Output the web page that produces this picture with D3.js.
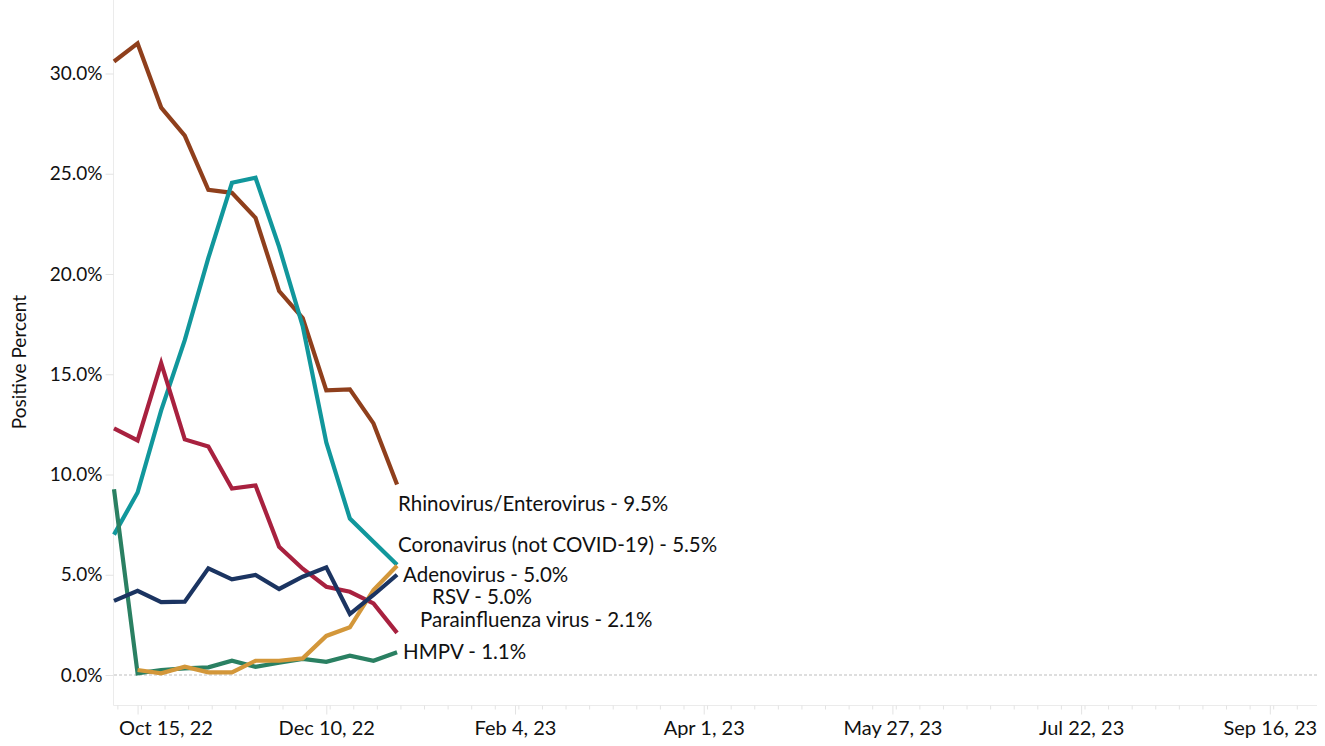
<!DOCTYPE html>
<html>
<head>
<meta charset="utf-8">
<script src="https://cdn.jsdelivr.net/npm/d3@7"></script>
<style>
  body { margin: 0; background: #fff; }
  svg { display: block; font-family: Lato, "Open Sans", sans-serif; }
</style>
</head>
<body>
<svg id="chart" width="1325" height="746"></svg>
<script>
// weekly dates (Saturdays), Oct 8 to Dec 31, 2022
const weeks = ["2022-10-08", "2022-10-15", "2022-10-22", "2022-10-29", "2022-11-05",
  "2022-11-12", "2022-11-19", "2022-11-26", "2022-12-03", "2022-12-10",
  "2022-12-17", "2022-12-24", "2022-12-31"];

const rhino = [30.6, 31.5, 28.3, 26.9, 24.2, 24.05, 22.8, 19.15, 17.8, 14.2, 14.25, 12.55, 9.5];
const corona = [7.0, 9.1, 13.2, 16.7, 20.8, 24.55, 24.8, 21.35, 17.4, 11.6, 7.8, 6.65, 5.5];
const parainfluenza = [12.3, 11.7, 15.55, 11.75, 11.4, 9.3, 9.45, 6.4, 5.3, 4.4, 4.15, 3.57, 2.1];
const adeno = [3.7, 4.2, 3.63, 3.66, 5.32, 4.77, 4.99, 4.29, 4.9, 5.37, 3.04, 3.99, 5.0];
const rsv = [null, 0.25, 0.08, 0.41, 0.13, 0.13, 0.71, 0.71, 0.83, 1.95, 2.38, 4.24, 5.45];
const hmpv = [9.26, 0.08, 0.25, 0.33, 0.38, 0.71, 0.41, 0.61, 0.8, 0.66, 0.96, 0.71, 1.13];

const series = [
  { name: "Rhinovirus/Enterovirus", values: rhino, color: "#8f3f1c", label: "Rhinovirus/Enterovirus - 9.5%", dx: 0, ly: 8.55 },
  { name: "Coronavirus (not COVID-19)", values: corona, color: "#11979c", label: "Coronavirus (not COVID-19) - 5.5%", dx: 0, ly: 6.5 },
  { name: "Parainfluenza virus", values: parainfluenza, color: "#a8213f", label: "Parainfluenza virus - 2.1%", dx: 22, ly: 2.75 },
  { name: "HMPV", values: hmpv, color: "#2a8062", label: "HMPV - 1.1%", dx: 5, ly: 1.15 },
  { name: "RSV", values: rsv, color: "#d3973a", label: "RSV - 5.0%", dx: 34, ly: 3.9 },
  { name: "Adenovirus", values: adeno, color: "#1b3461", label: "Adenovirus - 5.0%", dx: 5, ly: 5.0 }
];

const yTicks = [0, 5, 10, 15, 20, 25, 30];
const xTickDates = ["2022-10-15", "2022-12-10", "2023-02-04", "2023-04-01", "2023-05-27", "2023-07-22", "2023-09-16"];

const parse = d3.utcParse("%Y-%m-%d");
const svg = d3.select("#chart");

const x = d3.scaleUtc()
  .domain([parse("2022-10-08"), parse("2023-09-30")])
  .range([114, 1317]);
const y = d3.scaleLinear().domain([0, 30]).range([675, 73.5]);

// axis frame lines
svg.append("line").attr("x1", 113.5).attr("x2", 113.5).attr("y1", 0).attr("y2", 705.5)
  .attr("stroke", "#ebebeb");
svg.append("line").attr("x1", 113.5).attr("x2", 1317).attr("y1", 705.5).attr("y2", 705.5)
  .attr("stroke", "#ebebeb");

// weekly minor ticks
const weekTicks = d3.utcWeek.every(1).range(parse("2022-10-08"), parse("2023-10-01"));
const xAxisMinor = d3.axisBottom(x).tickValues(weekTicks).tickSize(4).tickFormat("");
const gm = svg.append("g").attr("transform", "translate(0,705.5)").call(xAxisMinor);
gm.select(".domain").remove();
gm.selectAll(".tick line").attr("stroke", "#e3e3e3");

// major ticks + labels
const xAxis = d3.axisBottom(x)
  .tickValues(xTickDates.map(parse))
  .tickSize(9).tickPadding(6)
  .tickFormat(d3.utcFormat("%b %-d, %y"));
const gx = svg.append("g").attr("transform", "translate(0,705.5)").call(xAxis);
gx.select(".domain").remove();
gx.selectAll(".tick line").attr("stroke", "#e3e3e3");
gx.selectAll(".tick text").attr("fill", "#111").style("font-size", "20px")
  .style("font-family", "Lato, sans-serif");
// first label is pushed right to stay inside the view
gx.selectAll(".tick text").filter((d, i) => i === 0).attr("text-anchor", "start").attr("x", -19);

// y axis
const yAxis = d3.axisLeft(y).tickValues(yTicks).tickSize(8).tickPadding(3)
  .tickFormat(d => d3.format(".1f")(d) + "%");
const gy = svg.append("g").attr("transform", "translate(113.5,0)").call(yAxis);
gy.select(".domain").remove();
gy.selectAll(".tick line").attr("stroke", "#e3e3e3");
gy.selectAll(".tick text").attr("fill", "#111").style("font-size", "19px")
  .style("font-family", "Lato, sans-serif");

svg.append("text")
  .attr("transform", "translate(26,362) rotate(-90)")
  .attr("text-anchor", "middle")
  .attr("fill", "#111")
  .style("font-size", "19px")
  .text("Positive Percent");

// zero reference line
svg.append("line").attr("x1", 114).attr("x2", 1317).attr("y1", y(0)).attr("y2", y(0))
  .attr("stroke", "#bdbdbd").attr("stroke-dasharray", "3,2");

const line = d3.line()
  .defined(d => d.v != null)
  .x(d => x(d.date))
  .y(d => y(d.v));

series.forEach(s => {
  const pts = weeks.map((w, i) => ({ date: parse(w), v: s.values[i] }));
  svg.append("path")
    .datum(pts)
    .attr("fill", "none")
    .attr("stroke", s.color)
    .attr("stroke-width", 4.2)
    .attr("stroke-linejoin", "miter")
    .attr("d", line);
});

// end labels
const lastDate = parse(weeks[weeks.length - 1]);
series.forEach(s => {
  svg.append("text")
    .attr("x", x(lastDate) + 1 + s.dx)
    .attr("y", y(s.ly))
    .attr("dy", "0.35em")
    .attr("fill", "#111")
    .style("font-size", "20.5px")
    .text(s.label);
});
</script>
</body>
</html>
